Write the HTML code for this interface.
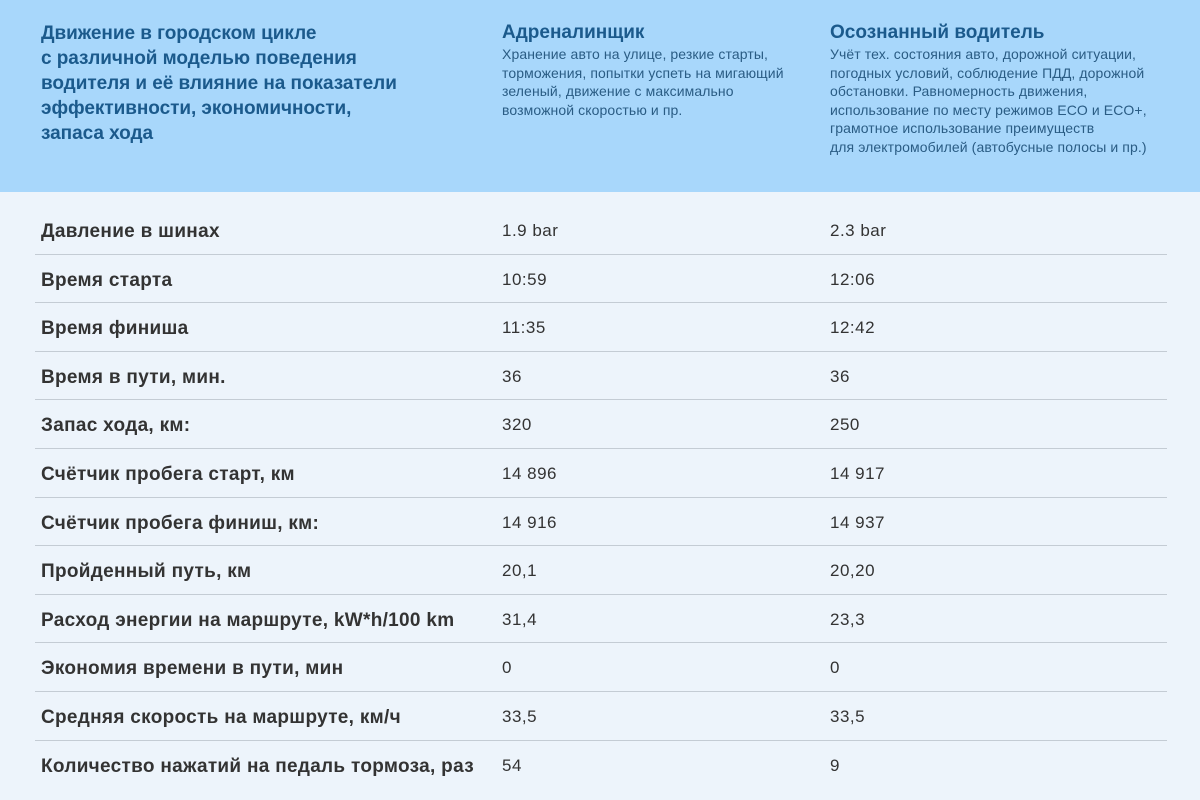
<!DOCTYPE html>
<html><head><meta charset="utf-8"><style>
body{margin:0;width:1200px;height:800px;overflow:hidden;background:#edf4fb;font-family:"Liberation Sans",sans-serif;position:relative}
.hd{position:absolute;left:0;top:0;width:1200px;height:192px;background:#a8d7fb}
.t{position:absolute;left:41px;top:21px;font-size:19px;font-weight:bold;color:#1b5a8c;line-height:25px;letter-spacing:-0.05px}
.c{position:absolute;top:20px}
.c h3{margin:0;font-size:19px;color:#1b5a8c;line-height:25px;letter-spacing:0px}
.c p{margin:0;font-size:14px;color:#2a5c84;line-height:18.6px;letter-spacing:0.1px}
.r{position:absolute;left:35px;width:1132px;height:48.6px;border-bottom:1.5px solid #c4ccd4;box-sizing:border-box;font-size:17px;color:#333}
.r span{position:absolute;top:15px;letter-spacing:0.5px}
.r b{position:absolute;left:6px;top:15px;font-size:19px;letter-spacing:0.3px}
</style></head><body>
<div class="hd"></div>
<div class="t">Движение в городском цикле<br>с различной моделью поведения<br>водителя и её влияние на показатели<br>эффективности, экономичности,<br>запаса хода</div>
<div class="c" style="left:502px"><h3>Адреналинщик</h3><p>Хранение авто на улице, резкие старты,<br>торможения, попытки успеть на мигающий<br>зеленый, движение с максимально<br>возможной скоростью и пр.</p></div>
<div class="c" style="left:830px"><h3>Осознанный водитель</h3><p>Учёт тех. состояния авто, дорожной ситуации,<br>погодных условий, соблюдение ПДД, дорожной<br>обстановки. Равномерность движения,<br>использование по месту режимов ECO и ECO+,<br>грамотное использование преимуществ<br>для электромобилей (автобусные полосы и пр.)</p></div>
<div class="r" style="top:206px"><b>Давление в шинах</b><span style="left:467px">1.9 bar</span><span style="left:795px">2.3 bar</span></div>
<div class="r" style="top:254.6px"><b>Время старта</b><span style="left:467px">10:59</span><span style="left:795px">12:06</span></div>
<div class="r" style="top:303.2px"><b>Время финиша</b><span style="left:467px">11:35</span><span style="left:795px">12:42</span></div>
<div class="r" style="top:351.8px"><b>Время в пути, мин.</b><span style="left:467px">36</span><span style="left:795px">36</span></div>
<div class="r" style="top:400.4px"><b>Запас хода, км:</b><span style="left:467px">320</span><span style="left:795px">250</span></div>
<div class="r" style="top:449px"><b>Счётчик пробега старт, км</b><span style="left:467px">14 896</span><span style="left:795px">14 917</span></div>
<div class="r" style="top:497.6px"><b>Счётчик пробега финиш, км:</b><span style="left:467px">14 916</span><span style="left:795px">14 937</span></div>
<div class="r" style="top:546.2px"><b>Пройденный путь, км</b><span style="left:467px">20,1</span><span style="left:795px">20,20</span></div>
<div class="r" style="top:594.8px"><b>Расход энергии на маршруте, kW*h/100 km</b><span style="left:467px">31,4</span><span style="left:795px">23,3</span></div>
<div class="r" style="top:643.4px"><b>Экономия времени в пути, мин</b><span style="left:467px">0</span><span style="left:795px">0</span></div>
<div class="r" style="top:692px"><b>Средняя скорость на маршруте, км/ч</b><span style="left:467px">33,5</span><span style="left:795px">33,5</span></div>
<div class="r" style="top:740.6px;border-bottom:none"><b>Количество нажатий на педаль тормоза, раз</b><span style="left:467px">54</span><span style="left:795px">9</span></div>
</body></html>
